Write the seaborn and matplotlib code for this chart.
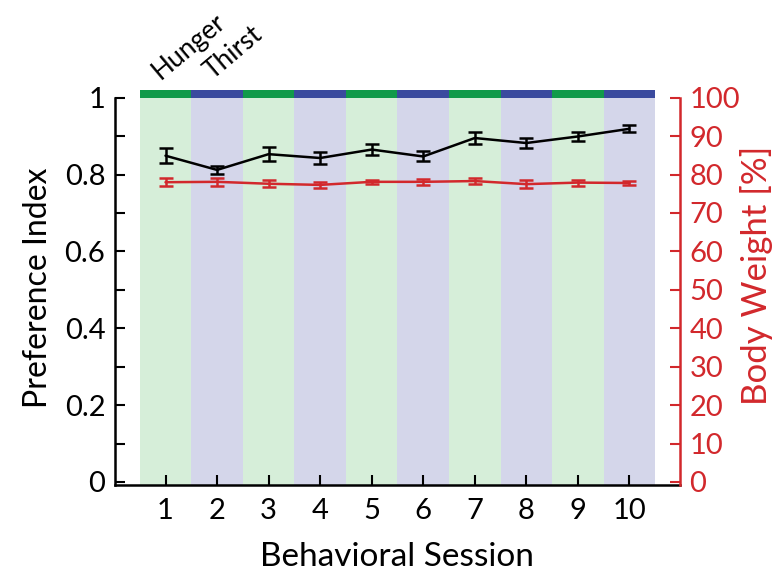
import numpy as np
import pandas as pd
import matplotlib
matplotlib.use("Agg")
import matplotlib.pyplot as plt
import seaborn as sns

sessions = [1, 2, 3, 4, 5, 6, 7, 8, 9, 10]
pref_mean = [0.849, 0.812, 0.853, 0.843, 0.865, 0.847, 0.895, 0.882, 0.899, 0.919]
pref_err = [0.020, 0.011, 0.018, 0.016, 0.015, 0.013, 0.016, 0.014, 0.011, 0.009]
bw_mean = [78.0, 78.1, 77.6, 77.3, 78.1, 78.1, 78.3, 77.5, 77.9, 77.8]
bw_err = [1.1, 1.1, 0.9, 0.7, 0.6, 0.7, 0.8, 1.0, 0.8, 0.5]
conditions = ["Hunger", "Thirst", "Hunger", "Thirst", "Hunger", "Thirst", "Hunger", "Thirst", "Hunger", "Thirst"]
cond_labels = ["Hunger", "Thirst"]
left_ticks = [0, 0.2, 0.4, 0.6, 0.8, 1]
left_ticklabels = ["0", "0.2", "0.4", "0.6", "0.8", "1"]
right_ticks = [0, 10, 20, 30, 40, 50, 60, 70, 80, 90, 100]

sns.set_theme(style="white")
plt.rcParams['font.family'] = ['Lato', 'DejaVu Sans']
plt.rcParams['text.color'] = 'black'
plt.rcParams['axes.labelcolor'] = 'black'
plt.rcParams['xtick.color'] = 'black'
plt.rcParams['ytick.color'] = 'black'

band_colors = {"Hunger": "#d6eed9", "Thirst": "#d4d6ea"}
strip_colors = {"Hunger": "#119a4a", "Thirst": "#3a4a9e"}
RED = "#d2282c"

df = pd.DataFrame({"session": sessions, "pref": pref_mean, "bw": bw_mean})

fig = plt.figure(figsize=(7.77, 5.71), dpi=100)
ax = fig.add_axes([0.148, 0.1506, 0.727, 0.6918])
ax.set_facecolor("none")

for s, c in zip(sessions, conditions):
    ax.axvspan(s - 0.5, s + 0.5, ymin=0, ymax=1.0, color=band_colors[c], lw=0, zorder=0)
    ax.fill_between([s - 0.5, s + 0.5], 1.0, 1.02, color=strip_colors[c], lw=0, zorder=1)

sns.lineplot(data=df, x="session", y="pref", color="black", lw=1.8, ax=ax, zorder=4)
ax.errorbar(sessions, pref_mean, yerr=pref_err, fmt="none", ecolor="black",
            elinewidth=1.8, capsize=5, capthick=1.8, zorder=4)

ax.set_xlim(0.02, 10.98)
ax.set_ylim(-0.008, 1.02)
ax.set_yticks(left_ticks)
ax.set_yticklabels(left_ticklabels)
ax.set_yticks(np.arange(0.1, 1.0, 0.2), minor=True)
ax.set_xticks(sessions)
ax.tick_params(axis="y", which="both", direction="in", length=7, width=1.5, labelsize=21,
               left=True, pad=7, colors="black")
ax.tick_params(axis="x", direction="in", length=7, width=1.5, labelsize=21, bottom=True,
               pad=9, colors="black")
ax.set_xlabel("Behavioral Session", fontsize=24, labelpad=13, color="black")
ax.set_ylabel("Preference Index", fontsize=23, labelpad=8, color="black")
for sp in ["top", "right"]:
    ax.spines[sp].set_visible(False)
ax.spines["left"].set_bounds(-0.008, 1.0)
ax.spines["left"].set_linewidth(1.8)
ax.spines["bottom"].set_linewidth(1.8)
ax.spines["left"].set_color("black")
ax.spines["bottom"].set_color("black")

ax2 = ax.twinx()
sns.lineplot(data=df, x="session", y="bw", color=RED, lw=1.8, ax=ax2, zorder=4)
ax2.errorbar(sessions, bw_mean, yerr=bw_err, fmt="none", ecolor=RED,
             elinewidth=1.8, capsize=5, capthick=1.8, zorder=4)
ax2.set_ylim(-0.8, 102)
ax2.set_yticks(right_ticks)
ax2.tick_params(axis="y", direction="in", length=7, width=1.5, labelsize=21,
                colors=RED, right=True, pad=7)
ax2.set_ylabel("Body Weight [%]", fontsize=25, color=RED)
ax2.yaxis.set_label_coords(1.107, 0.53)
for sp in ["top", "left", "bottom"]:
    ax2.spines[sp].set_visible(False)
ax2.spines["right"].set_bounds(-0.8, 100)
ax2.spines["right"].set_color(RED)
ax2.spines["right"].set_linewidth(1.8)

for s, lab in zip(sessions[:2], cond_labels):
    ax.text(s - 0.03, 1.035, lab, rotation=40, rotation_mode="anchor", ha="left", va="bottom",
            fontsize=19, transform=ax.transData, color="black")

fig.savefig("out.png", dpi=100)
